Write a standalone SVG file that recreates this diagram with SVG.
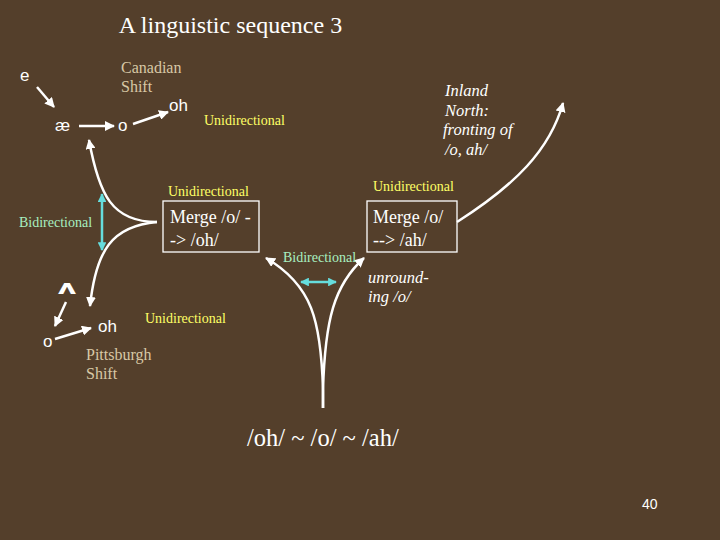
<svg xmlns="http://www.w3.org/2000/svg" width="720" height="540" viewBox="0 0 720 540">
<defs>
<marker id="ah" viewBox="0 0 10 10" refX="9" refY="5" markerWidth="4" markerHeight="4" orient="auto-start-reverse" markerUnits="strokeWidth"><path d="M0,0 L10,5 L0,10 z" fill="#ffffff"/></marker>
<marker id="ahc" viewBox="0 0 10 10" refX="9" refY="5" markerWidth="3.5" markerHeight="3.5" orient="auto-start-reverse" markerUnits="strokeWidth"><path d="M0,0 L10,5 L0,10 z" fill="#66dddd"/></marker>
<style>
.w{stroke:#ffffff;stroke-width:2.5;fill:none;marker-end:url(#ah)}
.c{stroke:#66dddd;stroke-width:2.5;fill:none;marker-start:url(#ahc);marker-end:url(#ahc)}
.ph{font-family:"Liberation Sans",Arial,sans-serif;font-size:17px;fill:#ffffff}
.s{font-family:"Liberation Serif","Times New Roman",serif}
.tan{fill:#d8c8a6;font-size:16px}
.yel{fill:#ffff66;font-size:14px}
.grn{fill:#a8f0c0;font-size:14px}
.wt{fill:#ffffff}
.it{font-style:italic;fill:#ffffff;font-size:16.5px}
.box{fill:none;stroke:#ffffff;stroke-width:1.3}
</style>
</defs>
<rect width="720" height="540" fill="#543f2b"/>
<text x="230.5" y="33" text-anchor="middle" class="s wt" font-size="24">A linguistic sequence 3</text>

<g id="connectors">
<path class="w" d="M37,87 L54,107"/>
<path class="w" d="M79,126 L114,126"/>
<path class="w" d="M133,124 L168,112"/>
<path class="w" d="M157,222 C112,222 99,195 89,140"/>
<path class="w" d="M157,222 C112,226 96,250 90,306"/>
<path class="c" d="M102,194 L102,250"/>
<path class="w" d="M457,222 C515,185 550,150 563,103"/>
<path class="w" d="M323,408 L323,390 C321,320 312,285 266,258"/>
<path class="w" d="M323,408 L323,390 C325,320 334,285 364,258"/>
<path class="c" d="M301,282 L336,282"/>
<path class="w" d="M66,302 L55,326"/>
<path class="w" d="M55,339 L91,328"/>
</g>

<g id="n-e"><text x="20" y="81" class="ph">e</text></g>
<g id="n-ae"><text x="55" y="131" class="ph">æ</text></g>
<g id="n-o1"><text x="118" y="131" class="ph">o</text></g>
<g id="n-oh1"><text x="169" y="111" class="ph">oh</text></g>
<g id="canadian"><text x="121" y="73" class="s tan">Canadian</text><text x="121" y="92" class="s tan">Shift</text></g>
<g id="uni1"><text x="204" y="125" class="s yel">Unidirectional</text></g>

<g id="inland"><text class="s it"><tspan x="445" y="96">Inland</tspan><tspan x="445" y="116">North:</tspan><tspan x="443" y="135">fronting of</tspan><tspan x="445" y="155">/o, ah/</tspan></text></g>

<g id="uni2"><text x="168" y="196" class="s yel">Unidirectional</text></g>
<g id="uni3"><text x="373" y="191" class="s yel">Unidirectional</text></g>
<g id="bidi1"><text x="19" y="227" class="s grn">Bidirectional</text></g>

<g id="merge-oh"><rect x="163" y="201" width="96" height="51" class="box"/><text class="s wt" font-size="18"><tspan x="170" y="223">Merge /o/ -</tspan><tspan x="170" y="246">-&gt;  /oh/</tspan></text></g>
<g id="merge-ah"><rect x="367" y="201" width="90" height="51" class="box"/><text class="s wt" font-size="18"><tspan x="373" y="223">Merge /o/</tspan><tspan x="373" y="246">--&gt; /ah/</tspan></text></g>

<g id="bidi2"><text x="283" y="262" class="s grn">Bidirectional</text></g>
<g id="unround"><text class="s it" font-size="14"><tspan x="368" y="283">unround-</tspan><tspan x="368" y="302">ing /o/</tspan></text></g>

<g id="n-wedge"><text transform="translate(67,294) scale(1.5,1.05)" text-anchor="middle" font-family="DejaVu Sans,sans-serif" font-weight="bold" font-size="19" fill="#ffffff">ʌ</text></g>
<g id="n-o2"><text x="43" y="347" class="ph">o</text></g>
<g id="n-oh2"><text x="98" y="332" class="ph">oh</text></g>
<g id="uni4"><text x="145" y="323" class="s yel">Unidirectional</text></g>
<g id="pitt"><text x="86" y="360" class="s tan">Pittsburgh</text><text x="86" y="379" class="s tan">Shift</text></g>

<g id="result"><text x="247" y="446" class="s wt" font-size="24.5">/oh/ ~ /o/ ~ /ah/</text></g>
<text x="642" y="509" font-family="Liberation Sans,Arial,sans-serif" font-size="14" fill="#ffffff">40</text>
</svg>
